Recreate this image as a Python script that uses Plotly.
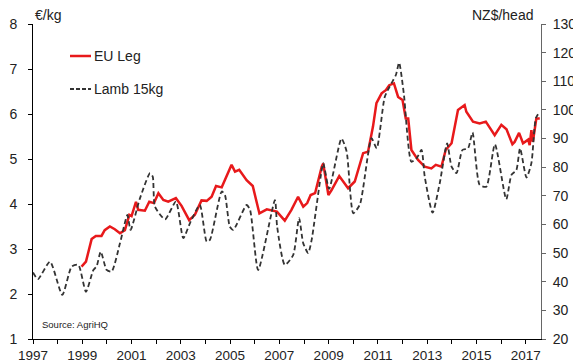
import plotly.graph_objects as go

# EU Leg price (EUR/kg, left axis)
leg_year = [1998.97, 1999.15, 1999.38, 1999.55, 1999.78, 1999.91, 2000.12, 2000.32, 2000.53, 2000.73,
            2000.91, 2001.00, 2001.18, 2001.27, 2001.54, 2001.72, 2001.91, 2002.09, 2002.29, 2002.49,
            2002.80, 2003.03, 2003.34, 2003.57, 2003.84, 2004.05, 2004.25, 2004.43, 2004.66, 2004.86,
            2005.06, 2005.20, 2005.37, 2005.67, 2005.92, 2006.19, 2006.49, 2006.90, 2007.22, 2007.49,
            2007.76, 2007.97, 2008.13, 2008.27, 2008.45, 2008.72, 2008.78, 2008.99, 2009.12, 2009.43,
            2009.79, 2010.06, 2010.40, 2010.60, 2010.80, 2010.94, 2011.15, 2011.32, 2011.46, 2011.65,
            2011.82, 2012.00, 2012.13, 2012.23, 2012.36, 2012.63, 2012.90, 2013.17, 2013.35, 2013.58,
            2013.75, 2013.99, 2014.25, 2014.52, 2014.59, 2014.86, 2015.13, 2015.38, 2015.74, 2016.01,
            2016.22, 2016.46, 2016.55, 2016.73, 2016.89, 2017.10, 2017.16, 2017.23, 2017.29, 2017.43,
            2017.57]
leg_eur = [2.61, 2.72, 3.22, 3.29, 3.29, 3.42, 3.50, 3.44, 3.35, 3.42,
           3.76, 3.73, 4.05, 3.87, 3.85, 4.05, 4.02, 4.24, 4.09, 4.05,
           4.13, 3.96, 3.64, 3.76, 4.08, 4.07, 4.16, 4.40, 4.37, 4.61,
           4.87, 4.72, 4.76, 4.53, 4.40, 3.79, 3.88, 3.83, 3.63, 3.87,
           4.16, 3.94, 4.02, 4.20, 4.24, 4.83, 4.90, 4.20, 4.31, 4.62,
           4.35, 4.50, 5.13, 5.16, 5.72, 6.24, 6.46, 6.53, 6.64, 6.68,
           6.38, 6.31, 5.90, 5.90, 5.20, 4.98, 4.83, 4.79, 4.87, 4.83,
           5.20, 5.35, 6.09, 6.20, 6.05, 5.83, 5.79, 5.83, 5.53, 5.76,
           5.66, 5.33, 5.38, 5.58, 5.35, 5.43, 5.31, 5.64, 5.38, 5.90,
           5.90]

# Lamb 15kg price (NZ$/head, right axis)
lamb_year = [1997.0, 1997.2, 1997.69, 1998.19, 1998.57, 1998.84, 1999.15, 1999.45, 1999.58, 1999.75,
             1999.99, 2000.19, 2000.53, 2000.83, 2000.96, 2001.34, 2001.75, 2001.86, 2001.95, 2002.36,
             2002.80, 2003.10, 2003.37, 2003.77, 2004.05, 2004.18, 2004.66, 2004.79, 2004.99, 2005.13,
             2005.67, 2005.81, 2006.14, 2006.82, 2006.91, 2007.22, 2007.56, 2007.80, 2007.97, 2008.17,
             2008.31, 2008.78, 2008.85, 2009.02, 2009.52, 2009.73, 2010.00, 2010.27, 2010.74, 2010.95,
             2011.28, 2011.55, 2011.73, 2011.86, 2012.05, 2012.36, 2012.57, 2012.77, 2012.90, 2013.22,
             2013.51, 2013.81, 2013.99, 2014.19, 2014.43, 2014.66, 2014.84, 2015.13, 2015.40, 2015.75,
             2016.21, 2016.42, 2016.62, 2016.77, 2017.03, 2017.23, 2017.41, 2017.57]
lamb_nzd = [43.2, 40.9, 47.0, 35.4, 45.3, 45.9, 36.5, 44.1, 45.3, 50.5,
            44.1, 43.5, 53.4, 63.3, 58.1, 69.1, 77.9, 76.7, 66.2, 61.8,
            68.0, 55.2, 60.4, 66.8, 54.0, 54.6, 71.5, 70.3, 59.2, 58.1,
            66.8, 65.1, 44.1, 68.5, 59.2, 45.9, 49.3, 62.2, 53.4, 50.0,
            54.6, 81.4, 79.0, 72.4, 90.0, 85.5, 63.9, 67.0, 90.1, 86.6,
            104.6, 109.3, 112.2, 116.5, 105.8, 81.9, 83.1, 86.0, 76.7, 64.1,
            74.4, 88.3, 80.2, 77.9, 86.0, 86.6, 92.1, 73.8, 73.2, 88.0,
            68.8, 77.3, 79.0, 86.6, 76.4, 81.4, 97.1, 99.4]

series_names = ["EU Leg", "Lamb 15kg"]

FONT = "Liberation Sans, Arial, sans-serif"
RED = "#e8191b"
DARK = "#333333"

fig = go.Figure()
fig.add_trace(go.Scatter(
    x=leg_year, y=leg_eur, name=series_names[0], mode="lines",
    line=dict(color=RED, width=2.5), showlegend=False,
))
fig.add_trace(go.Scatter(
    x=lamb_year, y=lamb_nzd, name=series_names[1], mode="lines", yaxis="y2",
    line=dict(color=DARK, width=1.8, dash="5px,3px", shape="spline", smoothing=0.6),
    showlegend=False,
))

# The page body adds an 8px offset; plot area on screen spans x 33..541, y 24..339.
def px(xp):
    return (xp - 33) / 508.0

def py(yp):
    return (339 - yp) / 315.0

shapes = [
    dict(type="line", xref="paper", yref="paper", x0=px(70), x1=px(91), y0=py(56), y1=py(56),
         line=dict(color=RED, width=2.5)),
    dict(type="line", xref="paper", yref="paper", x0=px(70), x1=px(91), y0=py(89), y1=py(89),
         line=dict(color=DARK, width=1.8, dash="4px,2px")),
]

annotations = [
    dict(text=series_names[0], xref="paper", yref="paper", x=px(92), y=py(56), xanchor="left",
         yanchor="middle", showarrow=False, font=dict(size=14, color="#222222")),
    dict(text=series_names[1], xref="paper", yref="paper", x=px(92), y=py(89), xanchor="left",
         yanchor="middle", showarrow=False, font=dict(size=14, color="#222222")),
    dict(text="€/kg", xref="paper", yref="paper", x=px(33), y=py(15), xanchor="left",
         yanchor="middle", showarrow=False, font=dict(size=14)),
    dict(text="NZ$/head", xref="paper", yref="paper", x=px(535), y=py(15), xanchor="right",
         yanchor="middle", showarrow=False, font=dict(size=14)),
    dict(text="Source: AgriHQ", xref="paper", yref="paper", x=px(40), y=py(324), xanchor="left",
         yanchor="middle", showarrow=False, font=dict(size=9.5)),
]

fig.update_layout(
    template="none",
    width=573, height=355,
    margin=dict(l=25, r=40, t=16, b=24, pad=0),
    paper_bgcolor="white", plot_bgcolor="white",
    font=dict(family=FONT, size=14, color="#222222"),
    showlegend=False,
    shapes=shapes,
    annotations=annotations,
    xaxis=dict(range=[1997, 2017.62], tick0=1997, dtick=2, showgrid=False, automargin=False,
               showline=True, linecolor="black", linewidth=1,
               ticks="outside", ticklen=4, tickcolor="black", ticklabelstandoff=0,
               minor=dict(dtick=1, tick0=1997, ticks="outside", ticklen=4, tickcolor="black",
                          showgrid=False),
               zeroline=False, tickfont=dict(size=13.5)),
    yaxis=dict(range=[1, 8], dtick=1, showgrid=False, showline=True, linecolor="black",
               automargin=False,
               linewidth=1, ticks="outside", ticklen=4, tickcolor="black", zeroline=False,
               ticklabelstandoff=8, tickfont=dict(size=14)),
    yaxis2=dict(range=[20, 130], dtick=10, overlaying="y", side="right", showgrid=False,
                automargin=False,
                showline=True, linecolor="#666666", linewidth=1, ticks="outside", ticklen=4,
                tickcolor="#666666", zeroline=False, ticklabelstandoff=4,
                tickfont=dict(size=14)),
)

fig.write_html("out.html")
